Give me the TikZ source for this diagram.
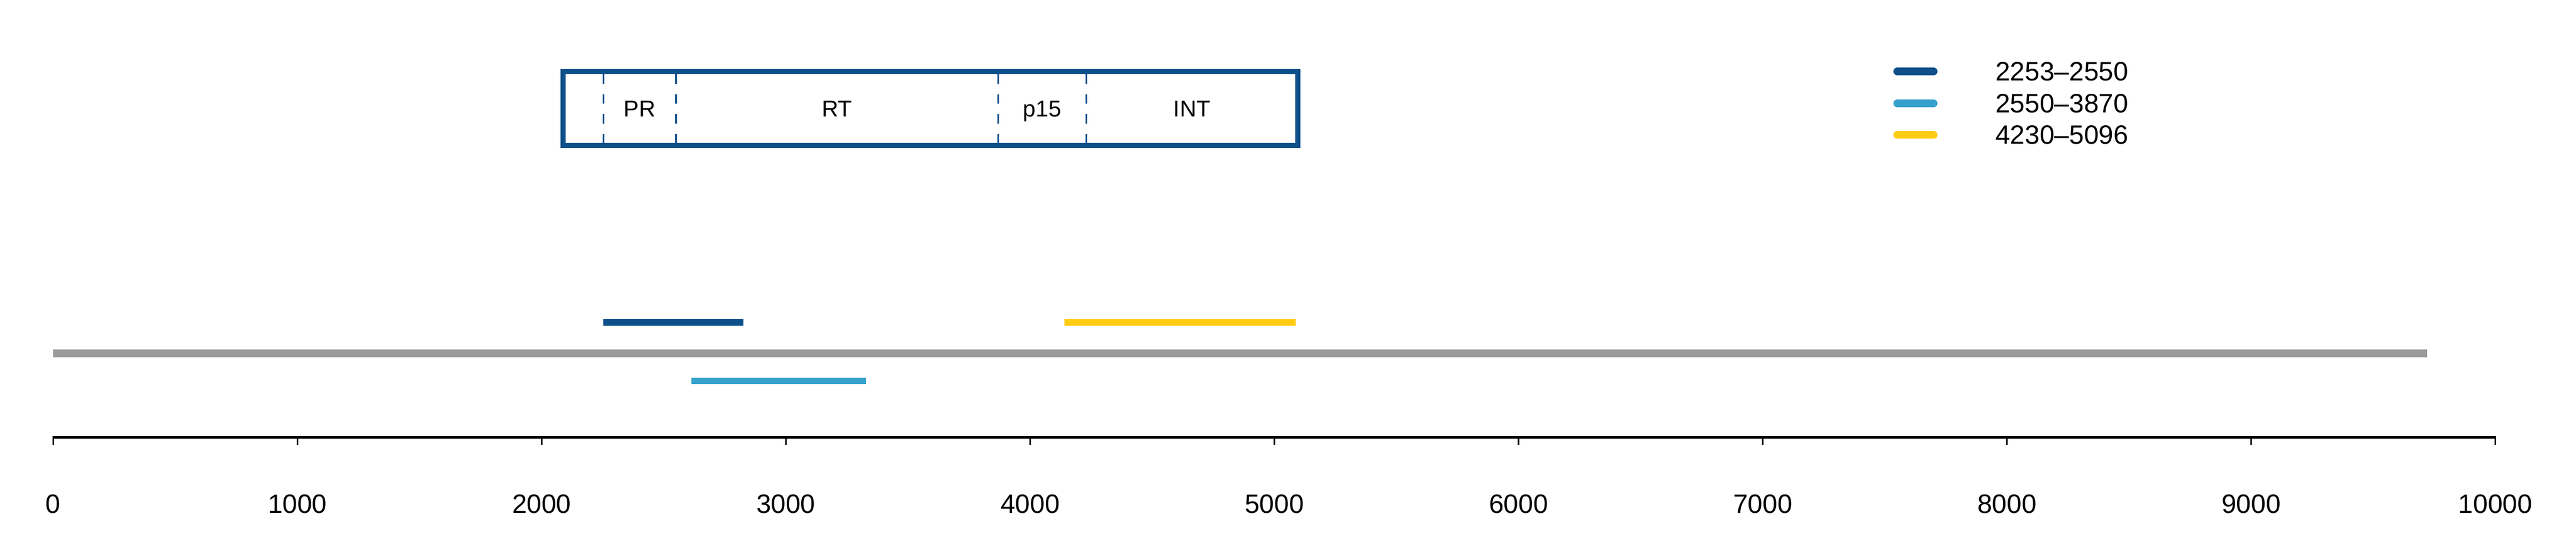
\documentclass[tikz,border=0pt]{standalone}
\usepackage{fontspec}
\setmainfont{Liberation Sans}
\usetikzlibrary{calc}
\definecolor{darkblue}{RGB}{14,80,138}
\definecolor{lightblue}{RGB}{54,162,203}
\definecolor{gold}{RGB}{255,204,20}
\definecolor{genome}{RGB}{155,155,155}

\begin{document}
\begin{tikzpicture}[x=0.00711cm, y=0.01cm,
        bar/.style={line width=0.19cm},
        lab/.style={font=\fontsize{22}{26}\selectfont, inner sep=0pt},
        dom/.style={font=\fontsize{19}{23}\selectfont, inner sep=0pt, anchor=base}]
        \useasboundingbox (-218,0) rectangle (10330.5,1600);

        % Draw the genome line
        \draw[genome, line width=0.22cm] (0,571) -- (9720,571);

        % Draw the fragments
        \draw[bar, darkblue] (2253,661.5) -- (2826,661.5);
        \draw[bar, gold] (4141,661.5) -- (5088,661.5);
        \draw[bar, lightblue, line width=0.18cm] (2613,491) -- (3329,491);

        % Draw the axis with ticks
        \draw[line width=0.08cm] (0,326) -- (10000,326);
        \foreach \t in {0,1000,...,10000} {
            \draw[line width=0.05cm] (\t,330) -- (\t,305);
            \node[lab, anchor=base] (tick\t) at (\t,106) {\t};
        }

        % Draw the domain box
        \draw[darkblue, line width=0.15cm] (2087,1177) rectangle (5097,1392);
        \foreach \d in {2253,2550,3870,4230}
            \draw[darkblue, line width=0.05cm, dash pattern=on 0.28cm off 0.30cm] (\d,1384) -- (\d,1184);

        % Label the domains
        \node[dom] (pr) at (2401.5,1260) {PR};
        \node[dom] (rt) at (3210,1260) {RT};
        \node[dom] (p15) at (4050,1260) {p15};
        \node[dom] (int) at (4663,1260) {INT};

        % Draw the legend
        \foreach \c/\y/\txt [count=\i] in {darkblue/1392/2253–2550, lightblue/1299/2550–3870, gold/1207/4230–5096} {
            \draw[\c, line width=0.225cm, line cap=round] (7551,\y) -- (7700,\y);
            \node[lab, anchor=west] (leg\i) at (7952,\y) {\txt};
        }

    \end{tikzpicture}
\end{document}
